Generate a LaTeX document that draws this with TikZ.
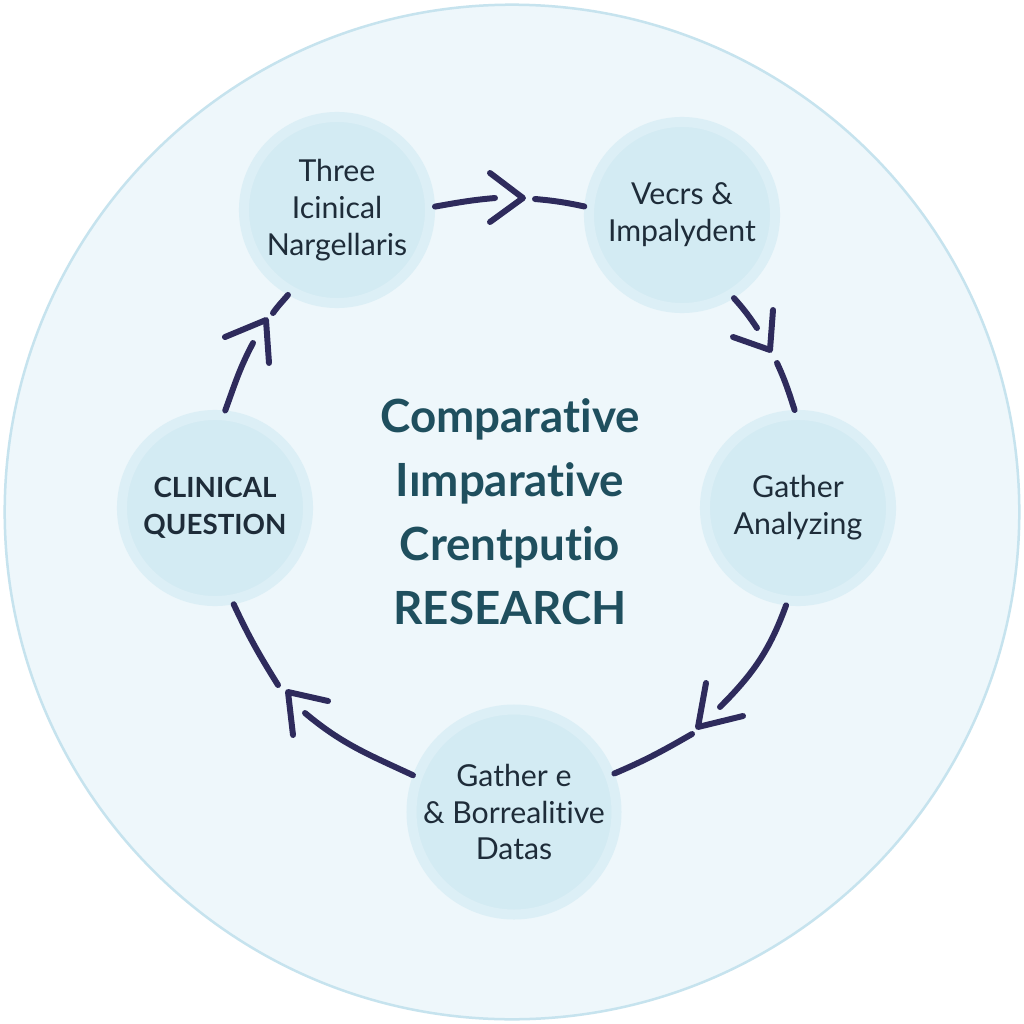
\documentclass[tikz,border=0pt]{standalone}
\usepackage{fontspec}
\setmainfont{Lato}[Ligatures=NoCommon]
\usetikzlibrary{positioning}

\definecolor{ringfill}{HTML}{EEF7FB}
\definecolor{ringline}{HTML}{C6E3EE}
\definecolor{stagefill}{HTML}{D3EBF3}
\definecolor{stagerim}{HTML}{DCEFF6}
\definecolor{flowcol}{HTML}{2E2B5C}
\definecolor{stageink}{HTML}{1E2C39}
\definecolor{titleink}{HTML}{1F4F5E}

\tikzset{
  stage/.style={circle, fill=stagefill, draw=stagerim, line width=1mm,
    minimum size=1.86cm, inner sep=0pt, align=center, text=stageink,
    font=\fontsize{8.6}{10.5}\selectfont},
  flow/.style={draw=flowcol, line width=1.7pt, line cap=round, line join=round},
  title/.style={align=center, text=titleink,
    font=\fontsize{13}{18.2}\selectfont\bfseries},
}

\begin{document}
\begin{tikzpicture}[x=0.01cm,y=0.01cm]

        \useasboundingbox[fill=white] (0,0) rectangle (1024,-1024);
        \draw[ringline, fill=ringfill, line width=0.25mm] (512,-512) circle (5.07cm);

        \node[title]  (core) at (510,-512)  {Comparative\\Iımparative\\Crentputio\\RESEARCH};

        \node[stage]  (Q1) at (337,-210)  {Three\\Icinical\\Nargellaris};
        \node[stage]  (Q2) at (682,-215)  {Vecrs \&\\Impalydent};
        \node[stage]  (Q3) at (798,-508)  {Gather\\Analyzing};
        \node[stage]  (Q4) at (514,-812)  {Gather e\\\& Borrealitive\\Datas};
        \node[stage, font=\fontsize{7.9}{10.5}\selectfont\bfseries]
                      (Q5) at (215,-508)  {CLINICAL\\QUESTION};

        % arrow tips and the shaft ends around them
        \coordinate (s1) at (495,-198);  \coordinate (t1) at (523,-198);  \coordinate (e1) at (535,-199);
        \coordinate (s2) at (757,-328);  \coordinate (t2) at (770,-350);  \coordinate (e2) at (777,-363);
        \coordinate (s3) at (720,-707);  \coordinate (t3) at (698,-727);  \coordinate (e3) at (692,-734);
        \coordinate (s4) at (305,-713);  \coordinate (t4) at (288,-692);  \coordinate (e4) at (278,-685);
        \coordinate (s5) at (253,-343);  \coordinate (t5) at (266,-320);  \coordinate (e5) at (273,-313);

        \path[flow]
                  (Q1.2)    edge [out=10,in=185]     (s1)
                  (e1)      edge [out=-5,in=168]     (Q2.175)
                  (Q2.-58)  edge [out=-48,in=124]    (s2)
                  (e2)      edge [out=-65,in=108]    (Q3.92)
                  (Q3.-97)  edge [out=-110,in=45]    (s3)
                  (e3)      edge [out=-150,in=23]    (Q4.21)
                  (Q4.160)  edge [out=155,in=-40]    (s4)
                  (e4)      edge [out=122,in=-65]    (Q5.-79)
                  (Q5.84)   edge [out=70,in=-118]    (s5)
                  (e5)      edge [out=55,in=-130]    (Q1.-120);

        \foreach \t/\ax/\ay/\bx/\by in {t1/-33/25/-33/-24, t2/-37/13/3/40,
                  t3/8/44/45/11, t4/40/-9/5/-43, t5/-41/-17/3/-43}
          \draw[flow] ([shift={(\ax,\ay)}]\t) -- (\t) -- ([shift={(\bx,\by)}]\t);

\end{tikzpicture}
\end{document}
